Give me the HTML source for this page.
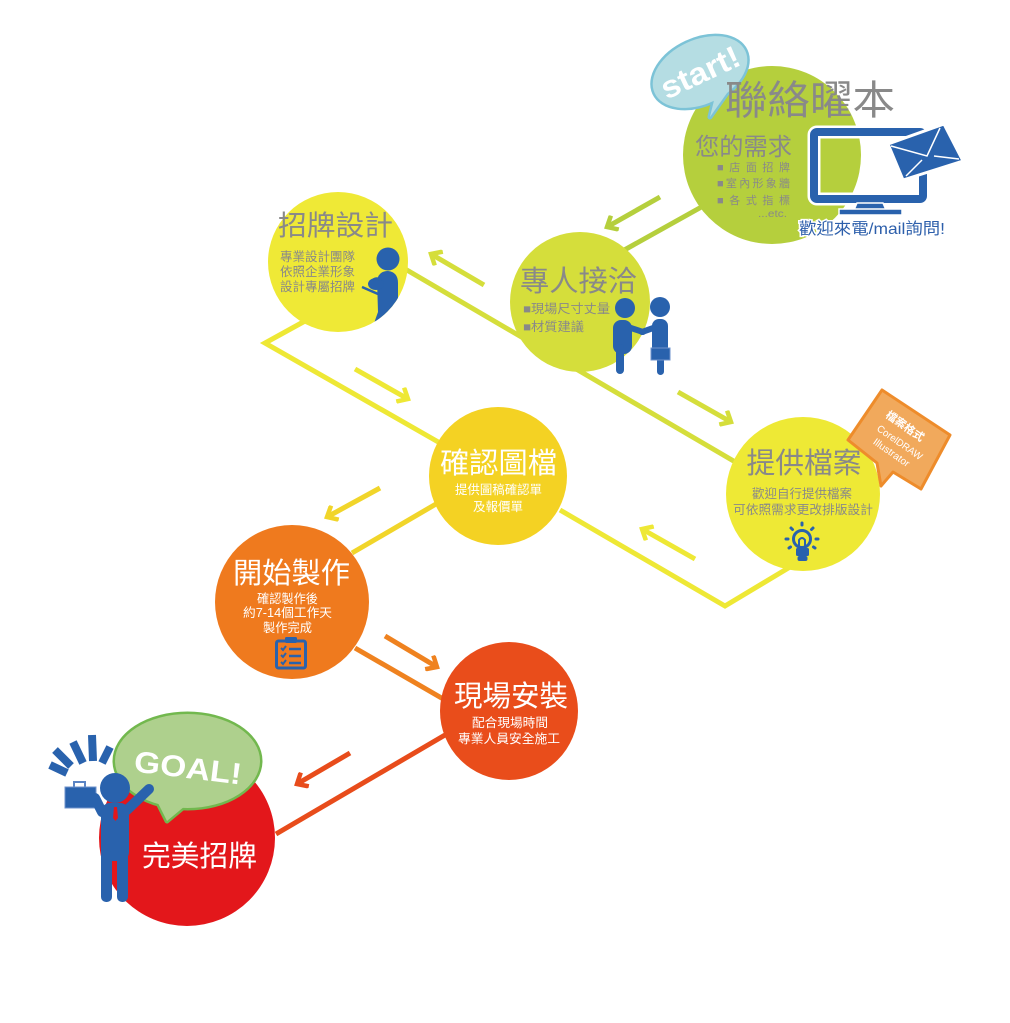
<!DOCTYPE html>
<html><head><meta charset="utf-8">
<style>
html,body{margin:0;padding:0;background:#fff;}
svg{display:block;}
text{font-family:"Liberation Sans","Noto Sans CJK TC",sans-serif;}
</style></head>
<body>
<svg width="1010" height="1023" viewBox="0 0 1010 1023" xmlns="http://www.w3.org/2000/svg">
<defs>
  <marker id="mG" markerUnits="userSpaceOnUse" markerWidth="18" markerHeight="18" viewBox="0 0 18 18" refX="14" refY="9" orient="auto"><path d="M5,1 L14,9 L5,17" fill="none" stroke="#b5cf3d" stroke-width="4.5"/></marker>
  <marker id="mL" markerUnits="userSpaceOnUse" markerWidth="18" markerHeight="18" viewBox="0 0 18 18" refX="14" refY="9" orient="auto"><path d="M5,1 L14,9 L5,17" fill="none" stroke="#d5de3b" stroke-width="4.5"/></marker>
  <marker id="mY" markerUnits="userSpaceOnUse" markerWidth="18" markerHeight="18" viewBox="0 0 18 18" refX="14" refY="9" orient="auto"><path d="M5,1 L14,9 L5,17" fill="none" stroke="#eee835" stroke-width="4.5"/></marker>
  <marker id="mD" markerUnits="userSpaceOnUse" markerWidth="18" markerHeight="18" viewBox="0 0 18 18" refX="14" refY="9" orient="auto"><path d="M5,1 L14,9 L5,17" fill="none" stroke="#f1d52a" stroke-width="4.5"/></marker>
  <marker id="mO" markerUnits="userSpaceOnUse" markerWidth="18" markerHeight="18" viewBox="0 0 18 18" refX="14" refY="9" orient="auto"><path d="M5,1 L14,9 L5,17" fill="none" stroke="#ef821f" stroke-width="4.5"/></marker>
  <marker id="mR" markerUnits="userSpaceOnUse" markerWidth="18" markerHeight="18" viewBox="0 0 18 18" refX="14" refY="9" orient="auto"><path d="M5,1 L14,9 L5,17" fill="none" stroke="#e84c1b" stroke-width="4.5"/></marker>
  <clipPath id="cDesign"><circle cx="338" cy="262" r="70"/></clipPath>
</defs>
<rect width="1010" height="1023" fill="#fff"/>

<!-- connector lines -->
<g fill="none" stroke-width="5" stroke-linejoin="miter">
  <line x1="705" y1="205" x2="610" y2="258" stroke="#b5cf3d"/>
  <line x1="400" y1="266" x2="737" y2="463" stroke="#d5de3b"/>
  <polyline points="305,321 265,343 440,443" stroke="#eee835"/>
  <polyline points="790,567 725,606 560,510" stroke="#eee835"/>
  <line x1="436" y1="504" x2="352" y2="553" stroke="#f1d52a"/>
  <line x1="355" y1="648" x2="445" y2="700" stroke="#ef821f"/>
  <line x1="445" y1="735" x2="276" y2="834" stroke="#e84c1b"/>
</g>

<!-- arrows -->
<g fill="none" stroke-width="5">
  <line x1="660" y1="197" x2="607" y2="227" stroke="#b5cf3d" marker-end="url(#mG)"/>
  <line x1="484" y1="285" x2="431" y2="254" stroke="#d5de3b" marker-end="url(#mL)"/>
  <line x1="355" y1="369" x2="408" y2="399" stroke="#eee835" marker-end="url(#mY)"/>
  <line x1="678" y1="392" x2="731" y2="422" stroke="#d5de3b" marker-end="url(#mL)"/>
  <line x1="695" y1="559" x2="642" y2="529" stroke="#eee835" marker-end="url(#mY)"/>
  <line x1="380" y1="488" x2="327" y2="517" stroke="#f1d52a" marker-end="url(#mD)"/>
  <line x1="385" y1="636" x2="437" y2="667" stroke="#ef821f" marker-end="url(#mO)"/>
  <line x1="350" y1="753" x2="297" y2="784" stroke="#e84c1b" marker-end="url(#mR)"/>
</g>

<!-- circles -->
<circle cx="772" cy="155" r="89" fill="#b5cf3d"/>
<circle cx="338" cy="262" r="70" fill="#efe936"/>
<circle cx="580" cy="302" r="70" fill="#d5de3b"/>
<circle cx="803" cy="494" r="77" fill="#eee935"/>
<circle cx="498" cy="476" r="69" fill="#f4d223"/>
<circle cx="292" cy="602" r="77" fill="#ef7a1e"/>
<circle cx="509" cy="711" r="69" fill="#e94d1b"/>
<circle cx="187" cy="838" r="88" fill="#e3171b"/>

<!-- start! bubble -->
<g transform="translate(700,72) rotate(-25)">
  <ellipse cx="0" cy="0" rx="50" ry="32" fill="#7cc3d7" stroke="#7cc3d7" stroke-width="5"/>
  <polygon points="2,30 -10,45 20,28" fill="#7cc3d7" stroke="#7cc3d7" stroke-width="5" stroke-linejoin="round"/>
  <ellipse cx="0" cy="0" rx="50" ry="32" fill="#b5dde3"/>
  <polygon points="2,30 -10,45 20,28" fill="#b5dde3"/>
  <text x="0" y="11" text-anchor="middle" font-size="31" font-weight="bold" fill="#fff" textLength="84" lengthAdjust="spacingAndGlyphs">start!</text>
</g>

<!-- top texts -->
<text x="810" y="114" text-anchor="middle" font-size="40" fill="#898989" textLength="170" lengthAdjust="spacingAndGlyphs">聯絡曜本</text>
<text x="695" y="155" font-size="24" fill="#898989" textLength="97" lengthAdjust="spacingAndGlyphs">您的需求</text>
<text x="717" y="171" font-size="11" fill="#898989" textLength="73" lengthAdjust="spacing">■店面招牌</text>
<text x="717" y="187" font-size="11" fill="#898989" textLength="73" lengthAdjust="spacing">■室內形象牆</text>
<text x="717" y="204" font-size="11" fill="#898989" textLength="73" lengthAdjust="spacing">■各式指標</text>
<text x="758" y="217" font-size="10" fill="#898989" textLength="29" lengthAdjust="spacingAndGlyphs">...etc.</text>

<!-- monitor -->
<g>
  <rect x="814" y="132" width="109" height="67" rx="3" fill="none" stroke="#fff" stroke-width="13"/>
  <rect x="814" y="132" width="109" height="67" rx="3" fill="none" stroke="#2962ad" stroke-width="8"/>
  <polygon points="857,203 883,203 886,210 854,210" fill="#2962ad" stroke="#fff" stroke-width="1.5"/>
  <rect x="839" y="209" width="63" height="6" fill="#2962ad" stroke="#fff" stroke-width="1.5"/>
  <polygon points="888,144 944,124 963,161 903,180" fill="#2962ad" stroke="#fff" stroke-width="3" stroke-linejoin="round"/>
  <polyline points="891,146 927,156 940,128" fill="none" stroke="#fff" stroke-width="1.5"/>
  <line x1="906" y1="176" x2="922" y2="160" stroke="#fff" stroke-width="1.5"/>
  <line x1="959" y1="159" x2="934" y2="156" stroke="#fff" stroke-width="1.5"/>
</g>
<text x="872" y="234" text-anchor="middle" font-size="16" fill="#2d5fab" stroke="#fff" stroke-width="3" paint-order="stroke" textLength="146" lengthAdjust="spacingAndGlyphs">歡迎來電/mail詢問!</text>

<!-- 招牌設計 -->
<text x="278" y="235" font-size="28" fill="#898989" textLength="115" lengthAdjust="spacingAndGlyphs">招牌設計</text>
<text x="280" y="261" font-size="12.5" fill="#898989" textLength="75" lengthAdjust="spacingAndGlyphs">專業設計團隊</text>
<text x="280" y="276" font-size="12.5" fill="#898989" textLength="75" lengthAdjust="spacingAndGlyphs">依照企業形象</text>
<text x="280" y="291" font-size="12.5" fill="#898989" textLength="75" lengthAdjust="spacingAndGlyphs">設計專屬招牌</text>
<g clip-path="url(#cDesign)" fill="#2962ad">
  <circle cx="388" cy="259" r="11.5"/>
  <path d="M377,280 Q379,271 388,271 Q398,272 398,283 L398,306 L392,340 L368,340 L378,312 Z"/>
  <ellipse cx="376" cy="284" rx="8" ry="6"/>
  <path d="M370,281 Q376,274 382,280 Z"/>
  <line x1="362" y1="287" x2="378" y2="294" stroke="#2962ad" stroke-width="2.5"/>
</g>

<!-- 專人接洽 -->
<text x="520" y="291" font-size="29" fill="#898989" textLength="117" lengthAdjust="spacingAndGlyphs">專人接洽</text>
<text x="523" y="313" font-size="12.5" fill="#898989" textLength="87" lengthAdjust="spacingAndGlyphs">■現場尺寸丈量</text>
<text x="523" y="331" font-size="12.5" fill="#898989" textLength="61" lengthAdjust="spacingAndGlyphs">■材質建議</text>
<g fill="#2962ad">
  <circle cx="625" cy="308" r="10"/>
  <rect x="613" y="320" width="19" height="34" rx="8"/>
  <rect x="616" y="344" width="8" height="30" rx="4"/>
  <line x1="628" y1="327" x2="643" y2="332" stroke="#2962ad" stroke-width="6" stroke-linecap="round"/>
  <circle cx="660" cy="307" r="10"/>
  <rect x="652" y="319" width="16" height="35" rx="7"/>
  <rect x="657" y="350" width="7" height="25" rx="3.5"/>
  <line x1="656" y1="327" x2="642" y2="332" stroke="#2962ad" stroke-width="6" stroke-linecap="round"/>
  <rect x="651" y="348" width="19" height="12" stroke="#6f93cc" stroke-width="1"/>
</g>

<!-- 提供檔案 -->
<text x="804" y="473" text-anchor="middle" font-size="29" fill="#898989" textLength="115" lengthAdjust="spacingAndGlyphs">提供檔案</text>
<text x="802" y="498" text-anchor="middle" font-size="12.5" fill="#898989" textLength="100" lengthAdjust="spacingAndGlyphs">歡迎自行提供檔案</text>
<text x="803" y="514" text-anchor="middle" font-size="12.5" fill="#898989" textLength="140" lengthAdjust="spacingAndGlyphs">可依照需求更改排版設計</text>
<!-- bulb -->
<g stroke="#2962ad" fill="none" stroke-width="3" stroke-linecap="round">
  <circle cx="802" cy="539" r="8.5"/>
  <path d="M799,547 L799,540 M805,547 L805,540 M799,540 Q802,536 805,540" stroke-width="2"/>
  <line x1="802" y1="523" x2="802" y2="525"/>
  <line x1="791" y1="528" x2="792.5" y2="529.5"/>
  <line x1="813" y1="528" x2="811.5" y2="529.5"/>
  <line x1="786" y1="539" x2="788" y2="539"/>
  <line x1="816" y1="539" x2="818" y2="539"/>
  <line x1="789" y1="548" x2="790.5" y2="547"/>
  <line x1="815" y1="548" x2="813.5" y2="547"/>
</g>
<rect x="796" y="548" width="13" height="8" rx="1.5" fill="#2962ad"/>
<rect x="797.5" y="556" width="10" height="5" rx="2" fill="#2962ad"/>

<!-- tag -->
<polygon points="882,390 950,435 921,489 893,472 881,486 877,463 848,440" fill="#f1a95c" stroke="#ee8c2b" stroke-width="3" stroke-linejoin="round"/>
<g transform="translate(898,438) rotate(35)" fill="#fff">
  <text x="-1" y="-10" text-anchor="middle" font-size="11" font-weight="bold" textLength="44" lengthAdjust="spacingAndGlyphs">檔案格式</text>
  <text x="4" y="6" text-anchor="middle" font-size="10" textLength="53" lengthAdjust="spacingAndGlyphs">CorelDRAW</text>
  <text x="3" y="19" text-anchor="middle" font-size="10" textLength="42" lengthAdjust="spacingAndGlyphs">Illustrator</text>
</g>

<!-- 確認圖檔 -->
<text x="498.5" y="473" text-anchor="middle" font-size="29" fill="#fff" textLength="117" lengthAdjust="spacingAndGlyphs">確認圖檔</text>
<text x="498.5" y="494" text-anchor="middle" font-size="12.5" fill="#fff" textLength="87" lengthAdjust="spacingAndGlyphs">提供圖稿確認單</text>
<text x="498" y="511" text-anchor="middle" font-size="12.5" fill="#fff" textLength="50" lengthAdjust="spacingAndGlyphs">及報價單</text>

<!-- 開始製作 -->
<text x="291.5" y="583" text-anchor="middle" font-size="29" fill="#fff" textLength="117" lengthAdjust="spacingAndGlyphs">開始製作</text>
<text x="287.5" y="603" text-anchor="middle" font-size="12.5" fill="#fff" textLength="61" lengthAdjust="spacingAndGlyphs">確認製作後</text>
<text x="287.5" y="617" text-anchor="middle" font-size="12.5" fill="#fff" textLength="89" lengthAdjust="spacingAndGlyphs">約7-14個工作天</text>
<text x="287.5" y="632" text-anchor="middle" font-size="12.5" fill="#fff" textLength="49" lengthAdjust="spacingAndGlyphs">製作完成</text>
<!-- clipboard -->
<g>
  <rect x="276.5" y="641" width="29" height="27" rx="2" fill="none" stroke="#2962ad" stroke-width="3"/>
  <rect x="285" y="637" width="12" height="6" rx="1.5" fill="#2962ad"/>
  <g fill="none" stroke="#2962ad" stroke-width="2">
    <polyline points="281,648 283,650 286,646"/>
    <polyline points="281,655 283,657 286,653"/>
    <polyline points="281,662 283,664 286,660"/>
  </g>
  <g stroke="#2962ad" stroke-width="2.5">
    <line x1="289" y1="649" x2="301" y2="649"/>
    <line x1="289" y1="656" x2="301" y2="656"/>
    <line x1="289" y1="663" x2="301" y2="663"/>
  </g>
</g>

<!-- 現場安裝 -->
<text x="511" y="706" text-anchor="middle" font-size="29" fill="#fff" textLength="114" lengthAdjust="spacingAndGlyphs">現場安裝</text>
<text x="510" y="727" text-anchor="middle" font-size="12.5" fill="#fff" textLength="76" lengthAdjust="spacingAndGlyphs">配合現場時間</text>
<text x="509" y="743" text-anchor="middle" font-size="12.5" fill="#fff" textLength="102" lengthAdjust="spacingAndGlyphs">專業人員安全施工</text>

<!-- GOAL bubble -->
<g>
  <ellipse cx="187.5" cy="761" rx="72.5" ry="47" fill="#72b84e" stroke="#72b84e" stroke-width="5"/>
  <polygon points="158,803 167,821 185,806" fill="#72b84e" stroke="#72b84e" stroke-width="5" stroke-linejoin="round"/>
  <ellipse cx="187.5" cy="761" rx="72.5" ry="47" fill="#aed08d"/>
  <polygon points="158,803 167,821 185,806" fill="#aed08d"/>
  <text x="188" y="778" text-anchor="middle" font-size="30" font-weight="bold" fill="#fff" transform="rotate(7 188 768)" textLength="108" lengthAdjust="spacingAndGlyphs">GOAL!</text>
</g>

<text x="199.5" y="866" text-anchor="middle" font-size="29" fill="#fff" textLength="115" lengthAdjust="spacingAndGlyphs">完美招牌</text>

<!-- goal person -->
<g fill="#2962ad">
  <g stroke="#2962ad" stroke-width="8" stroke-linecap="butt">
    <line x1="50" y1="765" x2="67" y2="773"/>
    <line x1="55" y1="750" x2="71" y2="766"/>
    <line x1="73" y1="742" x2="83" y2="763"/>
    <line x1="92" y1="735" x2="93" y2="761"/>
    <line x1="110" y1="747" x2="102" y2="763"/>
  </g>
  <rect x="74" y="782" width="11" height="6" fill="none" stroke="#5b84c4" stroke-width="2"/>
  <rect x="65" y="787" width="31" height="21" stroke="#6f93cc" stroke-width="1"/>
  <line x1="102" y1="812" x2="95" y2="798" stroke="#2962ad" stroke-width="10" stroke-linecap="round"/>
  <line x1="127" y1="810" x2="149" y2="789" stroke="#2962ad" stroke-width="10" stroke-linecap="round"/>
  <circle cx="115" cy="788" r="15"/>
  <rect x="101" y="803" width="28" height="58" rx="9"/>
  <rect x="101" y="850" width="11" height="52" rx="5"/>
  <rect x="117" y="850" width="11" height="52" rx="5"/>
  <polygon points="114,807 117,807 118,818 115.5,821 113,818" fill="#e3171b"/>
</g>
</svg>
</body></html>
